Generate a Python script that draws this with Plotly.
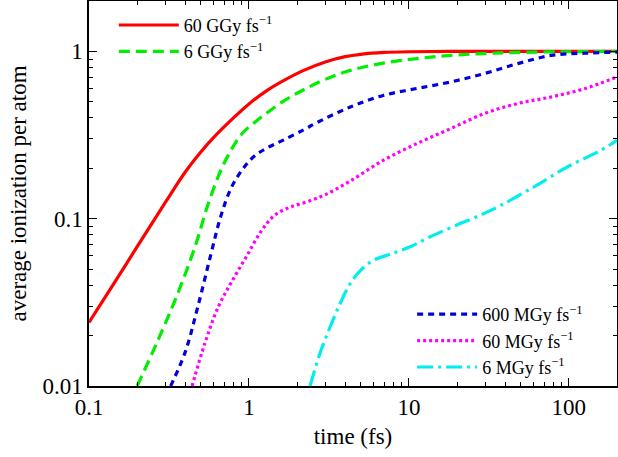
import plotly.graph_objects as go

# time (fs) and average ionization per atom
t_60G = [0.1, 0.15, 0.2, 0.3, 0.4, 0.5, 0.6, 0.8, 1.0, 1.3, 1.7, 2.2, 3.0, 4.0, 5.0, 7.0, 10, 20, 50, 100, 200]
ion_60G = [0.024, 0.044, 0.068, 0.125, 0.19, 0.25, 0.305, 0.40, 0.485, 0.585, 0.68, 0.77, 0.865, 0.93, 0.96, 0.985, 0.995, 1.0, 1.0, 1.0, 1.0]

t_6G = [0.2, 0.27, 0.36, 0.46, 0.56, 0.7, 0.9, 1.1, 1.3, 1.7, 2.2, 3.0, 4.3, 6.9, 11.2, 18.2, 29.6, 48, 100, 200]
ion_6G = [0.01, 0.0188, 0.036, 0.068, 0.125, 0.215, 0.32, 0.38, 0.43, 0.515, 0.59, 0.68, 0.77, 0.85, 0.905, 0.946, 0.97, 0.985, 0.995, 1.0]

t_600M = [0.324, 0.4, 0.48, 0.58, 0.67, 0.78, 0.94, 1.1, 1.3, 1.64, 2.2, 2.66, 4.3, 6.9, 11.2, 18.2, 29.6, 47.9, 77.5, 125, 200]
ion_600M = [0.01, 0.016, 0.03, 0.062, 0.105, 0.155, 0.205, 0.24, 0.265, 0.295, 0.34, 0.375, 0.465, 0.545, 0.6, 0.656, 0.737, 0.845, 0.946, 0.975, 0.99]

t_60M = [0.441, 0.53, 0.643, 0.78, 0.97, 1.2, 1.45, 1.8, 2.3, 3.0, 4.3, 6.9, 11.2, 18.2, 29.6, 47.9, 77.5, 125, 200]
ion_60M = [0.01, 0.018, 0.0297, 0.042, 0.06, 0.085, 0.105, 0.117, 0.126, 0.139, 0.168, 0.223, 0.281, 0.345, 0.425, 0.488, 0.534, 0.598, 0.703]

t_6M = [2.41, 2.78, 3.22, 3.72, 4.3, 4.97, 6.02, 7.65, 10.2, 13.6, 19.1, 28, 37.5, 60.6, 98, 158, 200]
ion_6M = [0.01, 0.0157, 0.0226, 0.0312, 0.041, 0.049, 0.0565, 0.0614, 0.068, 0.078, 0.09, 0.105, 0.12, 0.155, 0.204, 0.256, 0.294]

x_tickvals = [0.1, 1, 10, 100]
x_ticktext = ["0.1", "1", "10", "100"]
y_tickvals = [0.01, 0.1, 1]
y_ticktext = ["0.01", "0.1", "1"]

x_minor = [m * 10 ** e for e in (-1, 0, 1, 2) for m in range(2, 10) if m * 10 ** e <= 200]
y_minor = [m * 10 ** e for e in (-2, -1, 0) for m in range(2, 10) if m * 10 ** e <= 2]

FONT = "Liberation Serif"

fig = go.Figure()
series = [
    (t_60G, ion_60G, "60 GGy fs<sup>−1</sup>", "#ff0000", "solid", "legend"),
    (t_6G, ion_6G, "6 GGy fs<sup>−1</sup>", "#00ee00", "11px,6px", "legend"),
    (t_600M, ion_600M, "600 MGy fs<sup>−1</sup>", "#0000dd", "6px,5px", "legend2"),
    (t_60M, ion_60M, "60 MGy fs<sup>−1</sup>", "#ff00ff", "3px,3px", "legend2"),
    (t_6M, ion_6M, "6 MGy fs<sup>−1</sup>", "#00eeee", "16px,5px,3px,5px", "legend2"),
]
for x, y, name, color, dash, leg in series:
    fig.add_trace(go.Scatter(
        x=x, y=y, name=name, mode="lines",
        line=dict(color=color, width=3.2, dash=dash, shape="spline", smoothing=1.0),
        legend=leg,
    ))

axis_common = dict(
    type="log", showgrid=False, zeroline=False, automargin=False,
    showline=True, linecolor="black", linewidth=1.5, mirror="allticks",
    ticks="inside", ticklen=8, tickwidth=1.2, tickcolor="black",
    tickfont=dict(family=FONT, size=23, color="black"),
)

fig.update_layout(
    width=618, height=457,
    margin=dict(l=89, r=1, t=1, b=71, autoexpand=False),
    paper_bgcolor="white", plot_bgcolor="white",
    font=dict(family=FONT, color="black"),
    xaxis=dict(
        **axis_common,
        range=[-1, 2.30103],
        tickmode="array", tickvals=x_tickvals, ticktext=x_ticktext,
        minor=dict(tickmode="array", tickvals=x_minor, ticks="inside", ticklen=4, tickwidth=1, tickcolor="black", showgrid=False),
        title=dict(text="time (fs)", font=dict(family=FONT, size=23), standoff=9),
    ),
    yaxis=dict(
        **axis_common,
        range=[-2, 0.30103],
        tickmode="array", tickvals=y_tickvals, ticktext=y_ticktext,
        minor=dict(tickmode="array", tickvals=y_minor, ticks="inside", ticklen=4, tickwidth=1, tickcolor="black", showgrid=False),
        title=dict(text="average ionization per atom", font=dict(family=FONT, size=23), standoff=9),
    ),
    legend=dict(
        x=0.047, y=0.985, xanchor="left", yanchor="top",
        bgcolor="rgba(0,0,0,0)", font=dict(family=FONT, size=18, color="black"),
        itemwidth=60, tracegroupgap=0,
    ),
    legend2=dict(
        x=0.612, y=0.0, xanchor="left", yanchor="bottom",
        bgcolor="rgba(0,0,0,0)", font=dict(family=FONT, size=18, color="black"),
        itemwidth=60, tracegroupgap=0,
    ),
    showlegend=True,
)

fig.write_html(
    "out.html",
    config={"displayModeBar": False},
    post_script="document.body.style.margin='0';document.body.style.padding='0';",
)
